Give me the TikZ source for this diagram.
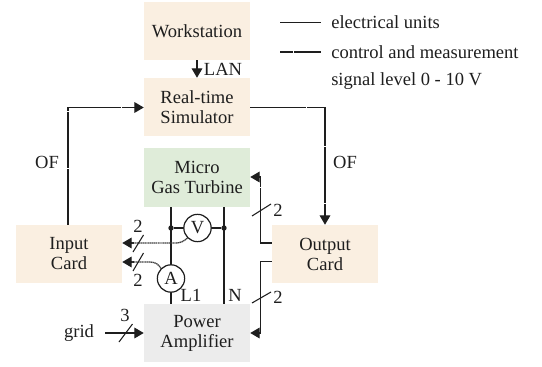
\documentclass[tikz,border=0pt]{standalone}
\usepackage{fontspec}
\setmainfont{Liberation Serif}
\usetikzlibrary{arrows.meta}
\definecolor{peach}{RGB}{250,239,225}
\definecolor{mint}{RGB}{223,236,217}
\definecolor{lgrey}{RGB}{236,236,236}
\definecolor{ink}{RGB}{30,30,30}
\tikzset{
  x=0.75pt,y=-0.75pt,
  every node/.style={font=\fontsize{13.9}{15}\selectfont,text=ink},
  blockbox/.style={minimum width=79.5pt,minimum height=43.5pt,align=center,inner sep=0pt},
  cardbox/.style={blockbox,fill=peach},
  txt/.style={inner sep=0pt},
  elec/.style={draw=ink,line width=0.8pt},
  ctrl/.style={draw=ink,line width=0.8pt,dash pattern=on 42pt off 0.8pt},
  arr/.style={-{Triangle[length=7pt,width=8pt]}},
  meas/.style={draw=ink!85,line width=1pt,dash pattern=on 1pt off 0.4pt},
  meastip/.style={draw=ink,line width=0.8pt},
  meter/.style={circle,draw=ink,line width=0.9pt,fill=white,minimum size=20.5pt,inner sep=0pt},
  junction/.style={circle,fill=ink,minimum size=4pt,inner sep=0pt},
  slash/.style={draw=ink,line width=0.8pt},
}
\begin{document}
\begin{tikzpicture}
\useasboundingbox (0,0) rectangle (542,367);
% blocks
\node[cardbox] (ws) at (197,31) {Workstation};
\node[cardbox] (rt) at (197,107) {Real-time\\Simulator};
\node[blockbox,fill=mint] (mgt) at (197,177.5) {Micro\\Gas Turbine};
\node[cardbox] (in) at (69,254) {Input\\Card};
\node[cardbox] (out) at (325,254) {Output\\Card};
\node[blockbox,fill=lgrey] (pa) at (197,333) {Power\\Amplifier};
% meters
\coordinate (l1top) at (171,207);
\coordinate (l1bot) at (171,304);
\coordinate (ntop) at (224,207);
\coordinate (nbot) at (224,304);
\draw[elec] (l1top) -- (l1bot);
\draw[elec] (ntop) -- (nbot);
\node[junction] (j1) at (171,228) {};
\node[junction] (j2) at (224,228) {};
\draw[elec] (j1) -- (j2);
\node[meter] (V) at (197.5,228) {V};
\node[meter] (A) at (171,278.5) {A};
% connectors
\draw[elec,arr] (ws.south) -- (rt.north);
\draw[ctrl,arr] (in.north -| 68,225) -- (68,107.5) -- (rt.west |- 68,107.5);
\draw[ctrl,arr] (rt.east |- 0,107.5) -- (325,107.5) -- (out.north);
\draw[ctrl,arr,dash pattern=on 50pt off 0.8pt] (out.west |- 0,243) -- (260.5,243) -- (260.5,177) -- (mgt.east |- 0,177);
\draw[elec,arr] (out.west |- 0,261.5) -- (260.5,261.5) -- (260.5,333) -- (pa.east);
\draw[meastip,arr] (134,243) -- (in.east |- 0,243);
\draw[meas] (V.225) .. controls (184,241) and (181,243) .. (176,243) -- (132,243);
\draw[meastip,arr] (134,262) -- (in.east |- 0,262);
\draw[meas] (A.135) .. controls (159,265) and (156,262) .. (150,262) -- (132,262);
\coordinate (gridstart) at (105,333);
\draw[elec,arr] (gridstart) -- (pa.west);
% slashes
\coordinate (s1a) at (133,252); \coordinate (s1b) at (143.5,235);
\coordinate (s2a) at (133,271); \coordinate (s2b) at (143.5,253);
\coordinate (s3a) at (119,342); \coordinate (s3b) at (132.5,324);
\coordinate (s4a) at (252,216); \coordinate (s4b) at (271,204);
\coordinate (s5a) at (252,303); \coordinate (s5b) at (271,292);
\foreach \a/\b in {s1a/s1b,s2a/s2b,s3a/s3b,s4a/s4b,s5a/s5b}{\draw[slash] (\a) -- (\b);}
% labels
\node[txt] (lab2a) at (138,226) {2};
\node[txt] (lab2b) at (138,280) {2};
\node[txt] (lab3) at (125,315) {3};
\node[txt] (lab2c) at (278,210) {2};
\node[txt] (lab2d) at (278,297) {2};
\node[txt] (gridl) at (79,333) {grid};
\node[txt] (lan) at (223,69) {LAN};
\node[txt] (of1) at (47,162) {OF};
\node[txt] (of2) at (345,162) {OF};
\node[txt] (l1) at (191,295) {L1};
\node[txt] (n) at (235,295) {N};
% legend
\coordinate (lg1a) at (280,22.5); \coordinate (lg1b) at (321,22.5);
\coordinate (lg2a) at (280,52); \coordinate (lg2b) at (321,52);
\draw[elec] (lg1a) -- (lg1b);
\draw[elec,dash pattern=on 10pt off 0.8pt on 30pt] (lg2a) -- (lg2b);
\node[txt,anchor=west] (t1) at (331,22) {electrical units};
\node[txt,anchor=west] (t2) at (331,52) {control and measurement};
\node[txt,anchor=west] (t3) at (331,81) {signal level 0 - 10 V};
\end{tikzpicture}
\end{document}
